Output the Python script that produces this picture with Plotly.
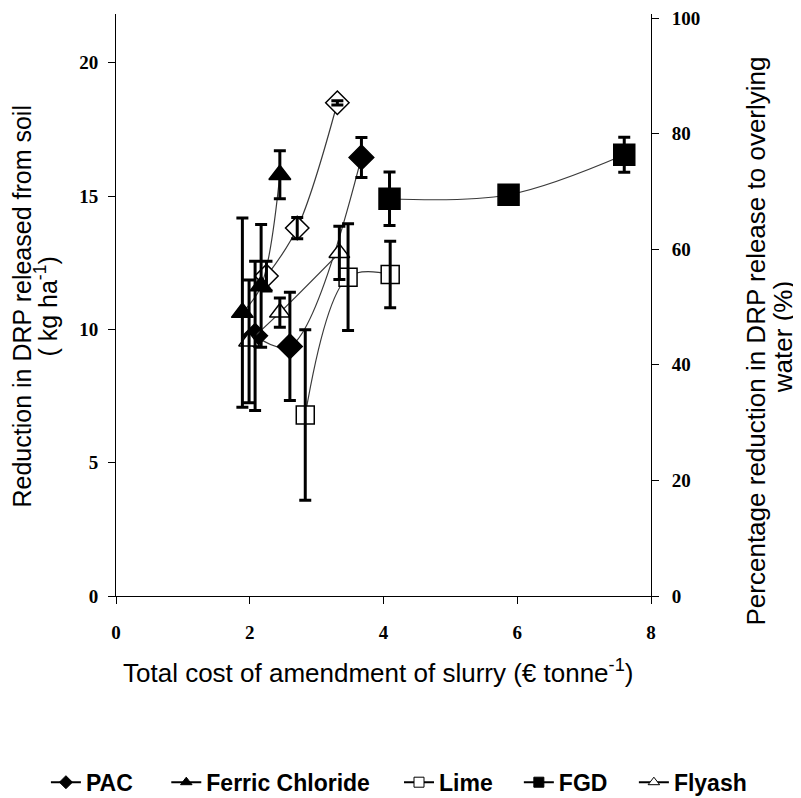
import plotly.graph_objects as go

# data (left axis units, kg ha-1)
pac_x = [2.08, 2.60, 3.67]
pac_y = [9.76, 9.36, 16.45]
pac_err = [2.80, 2.03, 0.75]

fc_x = [1.89, 2.17, 2.45]
fc_y = [10.63, 11.63, 15.80]
fc_err = [3.55, 2.30, 0.90]

lime_x = [2.83, 3.47, 4.10]
lime_y = [6.79, 11.96, 12.06]
lime_err = [3.20, 2.00, 1.25]

fgd_x = [4.09, 5.87, 7.60]
fgd_y = [14.90, 15.05, 16.55]
fgd_err = [1.00, 0.00, 0.66]

fly_x = [1.99, 2.45, 3.34]
fly_y = [9.55, 10.63, 12.87]
fly_err = [2.30, 0.55, 1.00]

# open diamonds, no legend entry in the original
od_x = [2.25, 2.71, 3.31]
od_y = [12.00, 13.80, 18.50]
od_err = [0.56, 0.40, 0.08]

x_ticks = [0, 2, 4, 6, 8]
y_ticks = [0, 5, 10, 15, 20]
y2_ticks = [0, 20, 40, 60, 80, 100]

LINE = "#3a3a3a"
TICK_FONT = dict(family="Liberation Serif", size=19, color="black", weight="bold")
LEGEND_FONT = dict(family="Liberation Sans", size=23, color="black", weight="bold")

# (name, x, y, err, symbol, fill, size, legend id, legend x)
SERIES = [
    ("open", od_x, od_y, od_err, "diamond", "white", 18, None, None),
    ("PAC", pac_x, pac_y, pac_err, "diamond", "black", 19, "legend", -0.131),
    ("Ferric Chloride", fc_x, fc_y, fc_err, "triangle-up", "black", 19, "legend2", 0.094),
    ("Lime", lime_x, lime_y, lime_err, "square", "white", 18, "legend3", 0.529),
    ("FGD", fgd_x, fgd_y, fgd_err, "square", "black", 21, "legend4", 0.753),
    ("Flyash", fly_x, fly_y, fly_err, "triangle-up", "white", 18, "legend5", 0.968),
]

fig = go.Figure()

# lines and markers
for name, x, y, err, symbol, fill, size, *_ in SERIES:
    fig.add_trace(
        go.Scatter(
            x=x,
            y=y,
            name=name,
            mode="lines+markers",
            showlegend=False,
            line=dict(color=LINE, width=1.2, shape="spline"),
            marker=dict(symbol=symbol, size=size, color=fill,
                        line=dict(color="black", width=1.5)),
        )
    )

# error bars drawn on top of the markers, like the original
for name, x, y, err, *_ in SERIES:
    fig.add_trace(
        go.Scatter(
            x=x,
            y=y,
            mode="markers",
            showlegend=False,
            hoverinfo="skip",
            marker=dict(size=1, color="rgba(0,0,0,0)"),
            error_y=dict(type="data", array=err, color="black", thickness=3, width=6),
        )
    )

legend_common = dict(
    orientation="h",
    xanchor="left",
    y=-0.32,
    yanchor="middle",
    font=LEGEND_FONT,
    itemwidth=30,
    bgcolor="rgba(0,0,0,0)",
)
legends = {}

# legend entries with small symbols, one legend box each so they can be spaced out
for name, x, y, err, symbol, fill, size, leg, leg_x in SERIES:
    if leg is None:
        continue
    legends[leg] = dict(x=leg_x, **legend_common)
    fig.add_trace(
        go.Scatter(
            x=[None],
            y=[None],
            name=name,
            legend=leg,
            mode="lines+markers",
            line=dict(color="black", width=2),
            marker=dict(symbol=symbol, size=10, color=fill,
                        line=dict(color="black", width=1)),
        )
    )

# empty trace so the right-hand axis is drawn
fig.add_trace(go.Scatter(x=[None], y=[None], yaxis="y2", showlegend=False, hoverinfo="skip"))

axis_common = dict(
    showgrid=False,
    zeroline=False,
    showline=True,
    linecolor="black",
    linewidth=1,
    ticks="outside",
    ticklen=7,
    tickcolor="black",
    tickfont=TICK_FONT,
    ticklabeloverflow="allow",
    automargin=False,
)

# page body has an 8px margin, so the figure is 8px smaller than the window
fig.update_layout(
    width=793,
    height=790,
    margin=dict(l=108, r=150, t=6, b=202, autoexpand=False),
    paper_bgcolor="white",
    plot_bgcolor="white",
    xaxis=dict(range=[0, 8], tickvals=x_ticks, ticklabelstandoff=12, **axis_common),
    yaxis=dict(range=[0, 21.83], tickvals=y_ticks, ticklabelstandoff=6, **axis_common),
    yaxis2=dict(
        range=[0, 100.7],
        tickvals=y2_ticks,
        overlaying="y",
        side="right",
        ticklabelstandoff=9,
        **axis_common,
    ),
    **legends,
)

# axis titles, one annotation per line to keep the tight line spacing
titles = [
    ("Total cost of amendment of slurry (€ tonne<sup>-1</sup>)", 0.49, -0.130, 0, 26),
    ("Reduction in DRP released from soil", -0.175, 0.498, -90, 25),
    ("( kg ha<sup>-1</sup>)", -0.130, 0.498, -90, 25),
    ("Percentage reduction in DRP release to overlying", 1.197, 0.438, -90, 26),
    ("water (%)", 1.247, 0.445, -90, 26),
]
for text, xp, yp, angle, fsize in titles:
    fig.add_annotation(
        text=text,
        x=xp,
        y=yp,
        xref="paper",
        yref="paper",
        xanchor="center",
        yanchor="middle",
        textangle=angle,
        showarrow=False,
        font=dict(family="Liberation Sans", size=fsize, color="black"),
    )

fig.write_html("out.html")
